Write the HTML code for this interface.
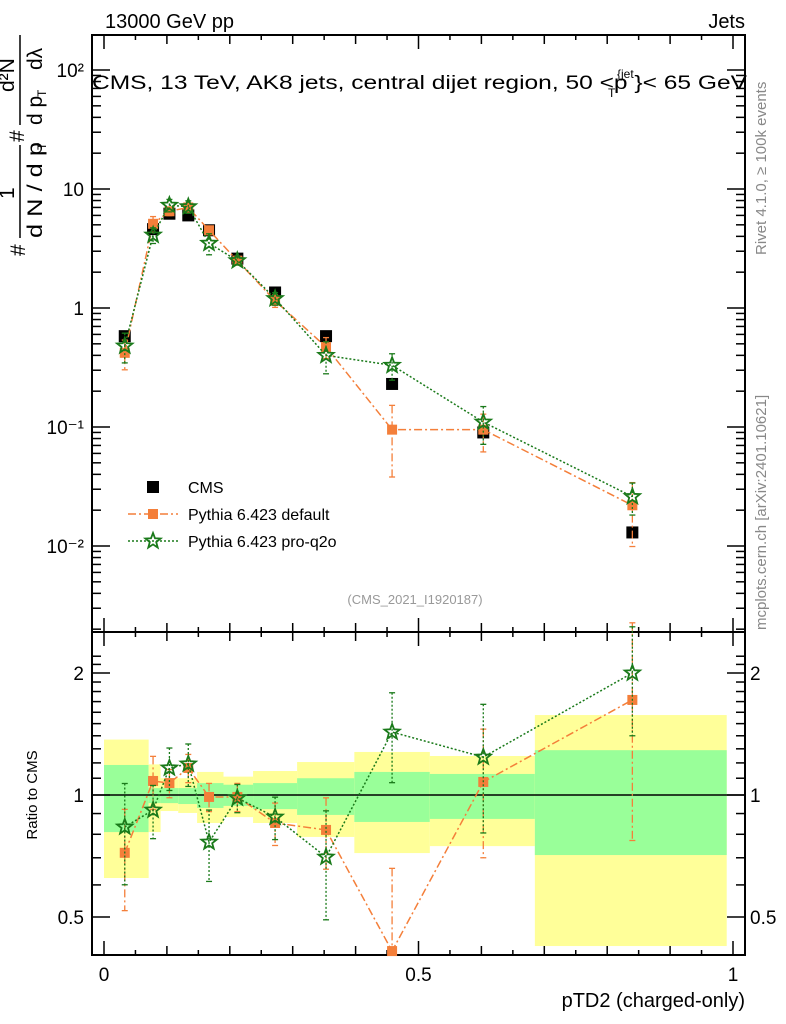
<!DOCTYPE html>
<html><head><meta charset="utf-8"><style>
body{margin:0;background:#fff;}
svg{display:block;font-family:"Liberation Sans",sans-serif;}
</style></head><body>
<svg id="c" width="786" height="1024" viewBox="0 0 786 1024">
<g id="bands"></g>
<g id="ax"></g>
<g id="marks"></g>
<text x="105" y="28" font-size="20">13000 GeV pp</text>
<text x="745" y="28" font-size="20" text-anchor="end">Jets</text>
<text x="92" y="89" font-size="19" textLength="655" lengthAdjust="spacingAndGlyphs">CMS, 13 TeV, AK8 jets, central dijet region, 50 &lt;p  }&lt; 65 GeV</text>
<text x="617" y="78" font-size="12">{jet</text>
<text x="608" y="97" font-size="12">T</text>
<text x="415" y="604" font-size="13" fill="#999" text-anchor="middle">(CMS_2021_I1920187)</text>
<text transform="translate(766,255) rotate(-90)" font-size="15" fill="#888">Rivet 4.1.0, ≥ 100k events</text>
<text transform="translate(766,630) rotate(-90)" font-size="15" fill="#888">mcplots.cern.ch [arXiv:2401.10621]</text>
<text transform="translate(37,795) rotate(-90)" font-size="15" text-anchor="middle">Ratio to CMS</text>
<text x="745" y="1007" font-size="20" text-anchor="end">pTD2 (charged-only)</text>
<g font-size="21">
<text transform="translate(25,256) rotate(-90)">#</text>
<line x1="20" y1="145" x2="20" y2="238" stroke="#000" stroke-width="1.5"/>
<text transform="translate(14,199) rotate(-90)">1</text>
<text transform="translate(42,238) rotate(-90)" textLength="96" lengthAdjust="spacingAndGlyphs">d N / d p</text>
<text transform="translate(46,150) rotate(-90)" font-size="12">T</text>
<text transform="translate(24,142) rotate(-90)">#</text>
<line x1="20" y1="35" x2="20" y2="125" stroke="#000" stroke-width="1.5"/>
<text transform="translate(14,92) rotate(-90)">d²N</text>
<text transform="translate(42,125) rotate(-90)">d p</text>
<text transform="translate(46,97) rotate(-90)" font-size="12">T</text>
<text transform="translate(42,70) rotate(-90)">dλ</text>
</g>
<g id="legend"></g>
</svg>
<script>
const xs=[0.033,0.078,0.104,0.134,0.167,0.212,0.272,0.353,0.458,0.603,0.84];
const cms=[0.58,4.6,6.2,6.0,4.5,2.6,1.35,0.58,0.23,0.09,0.013];
const pyDef=[0.42,5.1,6.5,7.0,4.5,2.5,1.15,0.47,0.095,0.095,0.022];
const pyPro=[0.48,4.1,7.3,7.1,3.5,2.5,1.2,0.4,0.33,0.11,0.026];
const errDef=[0.28,0.15,0.08,0.08,0.08,0.08,0.12,0.2,0.6,0.35,0.55];
const errPro=[0.28,0.15,0.12,0.12,0.2,0.08,0.12,0.3,0.25,0.35,0.3];
const ratDef=[0.72,1.083,1.07,1.166,0.989,0.989,0.853,0.82,0.412,1.077,1.716];
const ratPro=[0.834,0.918,1.166,1.193,0.765,0.983,0.882,0.703,1.43,1.24,2.0];
const binEdges=[0,0.071,0.09,0.118,0.148,0.19,0.237,0.307,0.398,0.518,0.685,0.99];
const yelHi=[1.37,1.19,1.10,1.10,1.14,1.11,1.146,1.206,1.277,1.248,1.575];
const yelLo=[0.624,0.81,0.913,0.903,0.853,0.882,0.853,0.788,0.719,0.748,0.424];
const grnHi=[1.186,1.04,1.04,1.04,1.07,1.06,1.07,1.10,1.14,1.127,1.29];
const grnLo=[0.81,0.955,0.955,0.95,0.929,0.94,0.923,0.893,0.858,0.873,0.711];
const yTopLabels=["10⁻²","10⁻¹","1","10","10²"];
const ns="http://www.w3.org/2000/svg";
const X=v=>104+629*v;
const Y=v=>308-119*Math.log10(v);
const R=v=>795-405.3*Math.log10(v);
function el(t,a,p){const e=document.createElementNS(ns,t);for(const k in a)e.setAttribute(k,a[k]);p.appendChild(e);return e;}
const bands=document.getElementById('bands'),ax=document.getElementById('ax'),mk=document.getElementById('marks'),lg=document.getElementById('legend');
for(let i=0;i<yelHi.length;i++){
 const x0=X(binEdges[i]),x1=X(binEdges[i+1]);
 const a=el('rect',{x:x0,y:R(yelHi[i]),width:x1-x0,height:R(yelLo[i])-R(yelHi[i]),fill:'#ffff99'},bands);
 
 
 const b=el('rect',{x:x0,y:R(grnHi[i]),width:x1-x0,height:R(grnLo[i])-R(grnHi[i]),fill:'#99ff99'},bands);
 
 
}
el('line',{x1:92,x2:745,y1:R(1),y2:R(1),stroke:'#000','stroke-width':1.5},ax);
el('rect',{x:92,y:35,width:653,height:597,fill:'none',stroke:'#000','stroke-width':2},ax);
el('rect',{x:92,y:632,width:653,height:323,fill:'none',stroke:'#000','stroke-width':2},ax);
for(let k=0;k<=20;k++){const v=k*0.05,x=X(v);const L=k%10==0?14:(k%2==0?9:5);
 for(const yb of [632,955]){el('line',{x1:x,x2:x,y1:yb,y2:yb-L,stroke:'#000','stroke-width':1.5},ax);}
 el('line',{x1:x,x2:x,y1:35,y2:35+L,stroke:'#000','stroke-width':1.5},ax);
 el('line',{x1:x,x2:x,y1:632,y2:632+L,stroke:'#000','stroke-width':1.5},ax);}
[["0",0],["0.5",0.5],["1",1]].forEach(([t,v])=>{const e=el('text',{x:X(v),y:981,'font-size':19,'text-anchor':'middle'},ax);e.textContent=t;
 
 });
for(let d=-3;d<=2;d++){for(let m=1;m<10;m++){const v=m*Math.pow(10,d),y=Y(v);if(y<35||y>632)continue;
 const L=m==1?18:9;el('line',{x1:92,x2:92+L,y1:y,y2:y,stroke:'#000','stroke-width':1.5},ax);el('line',{x1:745,x2:745-L,y1:y,y2:y,stroke:'#000','stroke-width':1.5},ax);}}
yTopLabels.forEach((t,i)=>{const v=Math.pow(10,i-2);const e=el('text',{x:84,y:Y(v)+7,'font-size':19,'text-anchor':'end'},ax);e.textContent=t;
 
 });
for(let v=0.4;v<=2.3;v+=0.1){const y=R(v);if(y<632||y>955)continue;const maj=Math.abs(v-0.5)<1e-6||Math.abs(v-1)<1e-6||Math.abs(v-2)<1e-6;const L=maj?18:9;
 el('line',{x1:92,x2:92+L,y1:y,y2:y,stroke:'#000','stroke-width':1.5},ax);el('line',{x1:745,x2:745-L,y1:y,y2:y,stroke:'#000','stroke-width':1.5},ax);}
[["0.5",0.5],["1",1],["2",2]].forEach(([t,v])=>{const a=el('text',{x:84,y:R(v)+7,'font-size':19,'text-anchor':'end'},ax);a.textContent=t;
 
 
 const b=el('text',{x:750,y:R(v)+7,'font-size':19},ax);b.textContent=t;
 
 });
function star(cx,cy,r,col,p){let pts=[];for(let i=0;i<10;i++){const a=-Math.PI/2+i*Math.PI/5,rr=i%2?r*0.42:r;pts.push((cx+rr*Math.cos(a)).toFixed(1)+','+(cy+rr*Math.sin(a)).toFixed(1));}
 return el('polygon',{points:pts.join(' '),fill:'none',stroke:col,'stroke-width':1.8},p);}
function series(vals,errs,fy,col,dash,shape,name){
 const g=el('g',{},mk);
 el('polyline',{points:vals.map((v,i)=>X(xs[i])+','+fy(v)).join(' '),fill:'none',stroke:col,'stroke-width':1.5,'stroke-dasharray':dash},g);
 vals.forEach((v,i)=>{const x=X(xs[i]);const y1=fy(v*(1+errs[i])),y2=fy(Math.max(v*(1-errs[i]),1e-4));
  el('line',{x1:x,x2:x,y1:y1,y2:Math.min(y2,955),stroke:col,'stroke-width':1.3,'stroke-dasharray':dash},g);
  el('line',{x1:x-3,x2:x+3,y1:y1,y2:y1,stroke:col,'stroke-width':1.3},g);
  if(y2<955)el('line',{x1:x-3,x2:x+3,y1:y2,y2:y2,stroke:col,'stroke-width':1.3},g);
  const y=fy(v);let m;
  if(shape=='sq')m=el('rect',{x:x-5,y:y-5,width:10,height:10,fill:col},g);else m=star(x,y,8,col,g);
  
  });}
cms.forEach((v,i)=>{const r=el('rect',{x:X(xs[i])-6,y:Y(v)-6,width:12,height:12,fill:'#000'},mk);
 
 });
series(pyDef,errDef,Y,'#f47f3a','8,3,2,3','sq','pythia-default');
series(pyPro,errPro,Y,'#1a7a1a','2,2','star','pythia-pro-q2o');
series(ratDef,errDef,R,'#f47f3a','8,3,2,3','sq','ratio-default');
series(ratPro,errPro,R,'#1a7a1a','2,2','star','ratio-pro-q2o');
const items=[["CMS",'#000',null,'sq'],["Pythia 6.423 default",'#f47f3a','8,3,2,3','sq'],["Pythia 6.423 pro-q2o",'#1a7a1a','2,2','star']];
items.forEach((it,i)=>{const y=487+27*i;const g=el('g',{},lg);
 
 
 if(it[2])el('line',{x1:128,x2:178,y1:y,y2:y,stroke:it[1],'stroke-width':1.5,'stroke-dasharray':it[2]},g);
 if(it[3]=='sq'){const s=i==0?12:10;el('rect',{x:153-s/2,y:y-s/2,width:s,height:s,fill:it[1]},g);}else star(153,y,8,it[1],g);
 const t=el('text',{x:188,y:y+6,'font-size':16},g);t.textContent=it[0];});
</script>
</body></html>
